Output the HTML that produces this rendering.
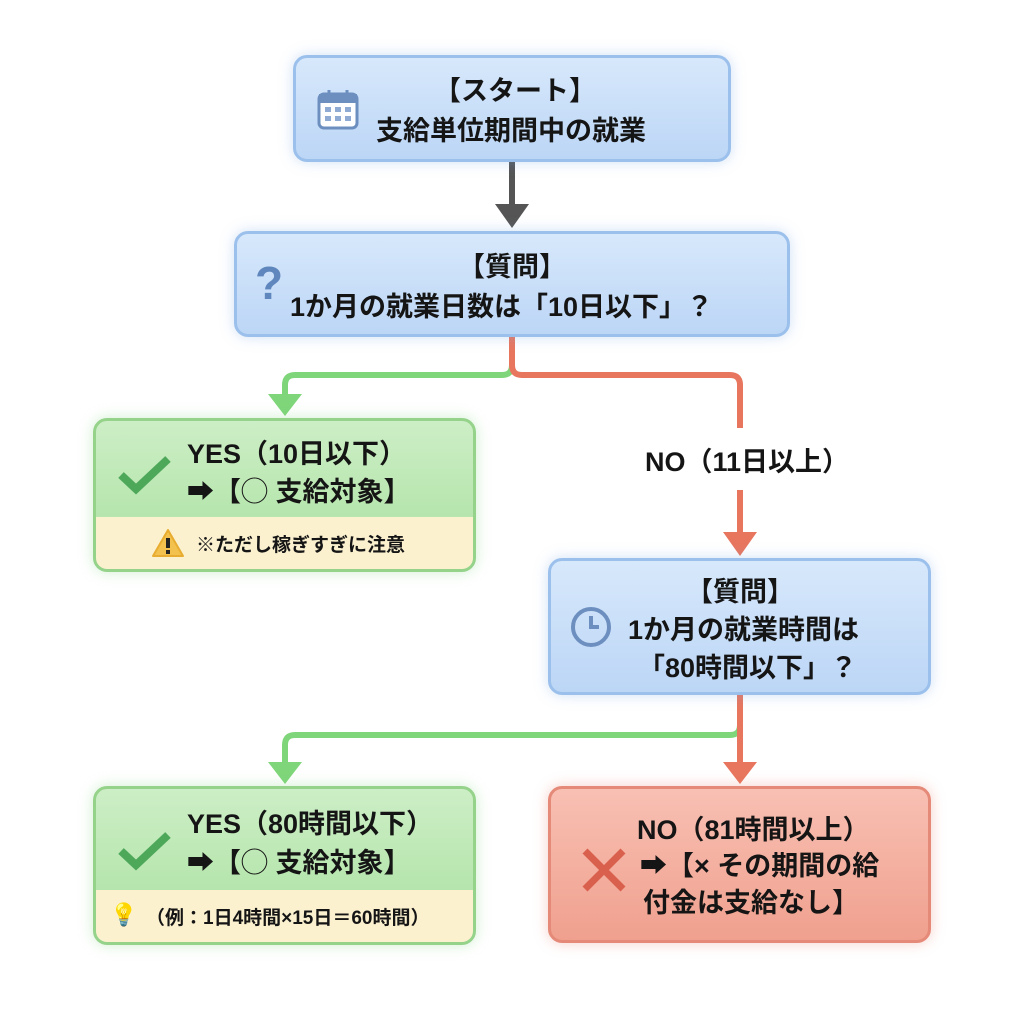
<!DOCTYPE html>
<html><head><meta charset="utf-8"><style>
body{margin:0;width:1024px;height:1024px;background:#fff;position:relative;overflow:hidden;font-family:"Liberation Sans","Noto Sans CJK JP",sans-serif;font-weight:bold;color:#151515}
.b{position:absolute;box-sizing:border-box;border-radius:14px}
.blue{background:linear-gradient(#d7e8fb,#bcd6f6);border:3px solid #9cc0ec;box-shadow:0 0 14px rgba(120,170,230,.35)}
.green{background:linear-gradient(#cdeec6,#a9e19f);border:3px solid #95d38b;box-shadow:0 0 14px rgba(120,210,120,.35);overflow:hidden}
.red{background:linear-gradient(#f8c0b3,#f0a08e);border:3px solid #e58a78;box-shadow:0 0 14px rgba(230,120,100,.35)}
.t{position:absolute;font-size:27px;line-height:38px;white-space:nowrap}
.foot{position:absolute;left:0;right:0;bottom:0;background:#fbf1cf;font-size:19px}
</style></head><body>
<svg width="1024" height="1024" style="position:absolute;left:0;top:0">
<line x1="512" y1="162" x2="512" y2="206" stroke="#555" stroke-width="6"/>
<polygon points="495,204 529,204 512,228" fill="#555"/>
<path d="M512 337 V365 Q512 375 502 375 H295 Q285 375 285 385 V398" fill="none" stroke="#7fd67a" stroke-width="6"/>
<polygon points="268,394 302,394 285,416" fill="#7fd67a"/>
<path d="M512 337 V365 Q512 375 522 375 H730 Q740 375 740 385 V428" fill="none" stroke="#e8765e" stroke-width="6"/>
<path d="M740 490 V534" fill="none" stroke="#e8765e" stroke-width="6"/>
<polygon points="723,532 757,532 740,556" fill="#e8765e"/>
<path d="M740 695 V725 Q740 735 730 735 H295 Q285 735 285 745 V764" fill="none" stroke="#7fd67a" stroke-width="6"/>
<polygon points="268,762 302,762 285,784" fill="#7fd67a"/>
<path d="M740 695 V764" fill="none" stroke="#e8765e" stroke-width="6"/>
<polygon points="723,762 757,762 740,784" fill="#e8765e"/>
</svg>

<div class="b blue" style="left:293px;top:55px;width:438px;height:107px">
<svg width="44" height="44" style="position:absolute;left:20px;top:30px"><rect x="3" y="6" width="38" height="34" rx="5" fill="#fff" stroke="#6d8fc0" stroke-width="3"/><rect x="3" y="6" width="38" height="9" fill="#6d8fc0"/><line x1="13" y1="2" x2="13" y2="10" stroke="#6d8fc0" stroke-width="3"/><line x1="31" y1="2" x2="31" y2="10" stroke="#6d8fc0" stroke-width="3"/><g fill="#8fabd4"><rect x="9" y="19" width="6" height="5"/><rect x="19" y="19" width="6" height="5"/><rect x="29" y="19" width="6" height="5"/><rect x="9" y="28" width="6" height="5"/><rect x="19" y="28" width="6" height="5"/><rect x="29" y="28" width="6" height="5"/></g></svg>
<div class="t" style="left:138px;top:14px">【スタート】</div>
<div class="t" style="left:80px;top:54px">支給単位期間中の就業</div>
</div>

<div class="b blue" style="left:234px;top:231px;width:556px;height:106px">
<div style="position:absolute;left:18px;top:22px;font-size:46px;color:#5f86bd">?</div>
<div class="t" style="left:221px;top:14px">【質問】</div>
<div class="t" style="left:53px;top:54px">1か月の就業日数は「10日以下」？</div>
</div>

<div class="t" style="left:645px;top:443px">NO（11日以上）</div>

<div class="b green" style="left:93px;top:418px;width:383px;height:154px">
<svg width="60" height="40" style="position:absolute;left:20px;top:34px"><path d="M5 20 L20 34 L52 4" fill="none" stroke="#4ea85a" stroke-width="8"/></svg>
<div class="t" style="left:91px;top:14px">YES（10日以下）</div>
<div class="t" style="left:91px;top:52px">➡【◯ 支給対象】</div>
<div class="foot" style="height:52px">
<svg width="34" height="30" style="position:absolute;left:55px;top:11px"><path d="M17 2 L32 28 H2 Z" fill="#f2c14e" stroke="#e8ad30" stroke-width="2" stroke-linejoin="round"/><rect x="15" y="10" width="4" height="10" fill="#222"/><rect x="15" y="22" width="4" height="4" fill="#222"/></svg>
<span style="position:absolute;left:100px;top:13px">※ただし稼ぎすぎに注意</span></div>
</div>

<div class="b blue" style="left:548px;top:558px;width:383px;height:137px">
<svg width="44" height="44" style="position:absolute;left:18px;top:44px"><circle cx="22" cy="22" r="18" fill="none" stroke="#6d8fc0" stroke-width="4"/><path d="M22 11 V22 H30" fill="none" stroke="#6d8fc0" stroke-width="4"/></svg>
<div class="t" style="left:135px;top:12px">【質問】</div>
<div class="t" style="left:77px;top:50px">1か月の就業時間は</div>
<div class="t" style="left:87px;top:88px">「80時間以下」？</div>
</div>

<div class="b green" style="left:93px;top:786px;width:383px;height:159px">
<svg width="60" height="40" style="position:absolute;left:20px;top:42px"><path d="M5 20 L20 34 L52 4" fill="none" stroke="#4ea85a" stroke-width="8"/></svg>
<div class="t" style="left:91px;top:16px">YES（80時間以下）</div>
<div class="t" style="left:91px;top:55px">➡【◯ 支給対象】</div>
<div class="foot" style="height:52px"><span style="position:absolute;left:14px;top:12px;font-size:22px;color:#f2b820">💡</span><span style="position:absolute;left:50px;top:13px">（例：1日4時間×15日＝60時間）</span></div>
</div>

<div class="b red" style="left:548px;top:786px;width:383px;height:157px">
<svg width="50" height="50" style="position:absolute;left:28px;top:56px"><path d="M6 6 L44 44 M44 6 L6 44" stroke="#d9604c" stroke-width="7"/></svg>
<div class="t" style="left:86px;top:22px">NO（81時間以上）</div>
<div class="t" style="left:89px;top:58px">➡【× その期間の給</div>
<div class="t" style="left:92px;top:95px">付金は支給なし】</div>
</div>
</body></html>
